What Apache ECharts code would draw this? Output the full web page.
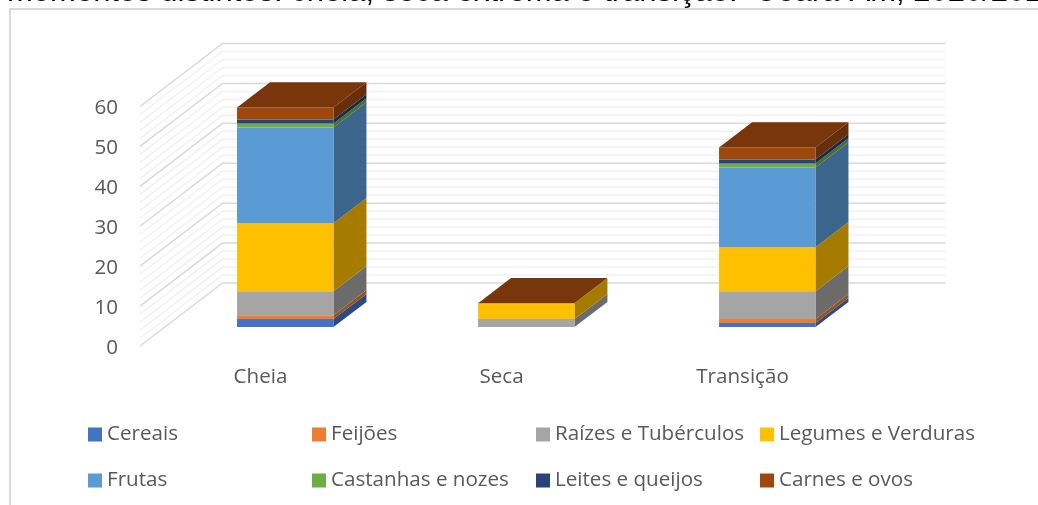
<!DOCTYPE html>
<html>
<head>
<meta charset="utf-8">
<style>html,body{margin:0;padding:0;background:#fff;overflow:hidden}#c{width:1038px;height:505px}</style>
<script src="https://cdn.jsdelivr.net/npm/echarts@6/dist/echarts.min.js"></script>
</head>
<body>
<div id="c"></div>
<script>
const categories = ['Cheia', 'Seca', 'Transição'];
const seriesNames = ['Cereais', 'Feijões', 'Raízes e Tubérculos', 'Legumes e Verduras', 'Frutas', 'Castanhas e nozes', 'Leites e queijos', 'Carnes e ovos'];
const cereais = [2, 0, 1];
const feijoes = [1, 0, 1];
const raizes = [6, 2, 7];
const legumes = [17, 4, 11];
const frutas = [24, 0, 20];
const castanhas = [1, 0, 1];
const leites = [1, 0, 1];
const carnes = [3, 0, 3];
const seriesValues = [cereais, feijoes, raizes, legumes, frutas, castanhas, leites, carnes];
const yTicks = [0, 10, 20, 30, 40, 50, 60];
const gridTicks = [0,2,4,6,8,10,12,14,16,18,20,22,24,26,28,30,32,34,36,38,40,42,44,46,48,50,52,54,56,58,60];
const titleText = 'momentos distintos: cheia, seca extrema e transição.  Ceará-Am, 2020/2021';

const frontColors = ['#4472C4', '#ED7D31', '#A5A5A5', '#FFC000', '#5B9BD5', '#70AD47', '#264478', '#9E480E'];
const sideColors = ['#2C4A80', '#9A5120', '#6B6B6B', '#A67C00', '#3B658B', '#49702E', '#192C4E', '#672F09'];
const topColor = '#7A360B';
const legendX = [88, 312, 536, 760];
const legendY = [424, 470];

const DX = 82.5, DY = -63, NEAR = 0.3, FAR = 0.7, BAR = 0.4;

function renderGrid(params, api) {
  const v = api.value(0);
  const cs = params.coordSys;
  const y = api.coord([0, v])[1];
  const major = v % 10 === 0;
  return {
    type: 'polyline',
    shape: { points: [[cs.x, y], [cs.x + DX, y + DY], [cs.x + cs.width + DX, y + DY]] },
    style: { fill: 'none', stroke: major ? '#D9D9D9' : '#F2F2F2', lineWidth: 1.5 },
    silent: true
  };
}

function renderSeg(sIdx) {
  return function (params, api) {
    const cat = api.value(0), lo = api.value(1), hi = api.value(2);
    const c0 = api.coord([cat, lo]), c1 = api.coord([cat, hi]);
    const w = api.size([1, 0])[0] * BAR;
    const ox = DX * NEAR, oy = DY * NEAR;
    const x0 = c0[0] + ox - w / 2, x1 = x0 + w;
    const yb = c0[1] + oy, yt = c1[1] + oy;
    const sx = DX * (FAR - NEAR), sy = DY * (FAR - NEAR);
    const children = [];
    if (hi > lo) {
      children.push({ type: 'polygon', shape: { points: [[x1, yb], [x1 + sx, yb + sy], [x1 + sx, yt + sy], [x1, yt]] }, style: { fill: sideColors[sIdx] } });
      children.push({ type: 'rect', shape: { x: x0, y: yt, width: w, height: yb - yt }, style: { fill: frontColors[sIdx] } });
    }
    if (sIdx === seriesNames.length - 1) {
      children.push({ type: 'polygon', shape: { points: [[x0, yt], [x1, yt], [x1 + sx, yt + sy], [x0 + sx, yt + sy]] }, style: { fill: topColor } });
    }
    return { type: 'group', children };
  };
}

const running = categories.map(() => 0);
const barSeries = seriesNames.map((name, i) => {
  const data = categories.map((_, k) => {
    const lo = running[k];
    running[k] = lo + seriesValues[i][k];
    return [k, lo, running[k]];
  });
  return {
    name, type: 'custom', renderItem: renderSeg(i), data, clip: false, z: 5 + i,
    itemStyle: { color: frontColors[i] },
    encode: { x: 0, y: 2 }
  };
});

const legends = seriesNames.map((name, i) => ({
  data: [name],
  left: legendX[i % 4],
  top: legendY[Math.floor(i / 4)],
  padding: 0,
  itemWidth: 14, itemHeight: 14, icon: 'rect',
  itemGap: 0, selectedMode: false,
  textStyle: { fontFamily: 'Open Sans', fontSize: 20.6, color: '#595959' }
}));

const chart = echarts.init(document.getElementById('c'), null, { renderer: 'canvas' });
chart.setOption({
  animation: false,
  backgroundColor: '#fff',
  title: {
    text: titleText, left: 7, top: -23, padding: 0, z: 1,
    textStyle: { fontFamily: 'Liberation Sans', fontWeight: 'normal', fontSize: 31, color: '#000' }
  },
  legend: legends,
  graphic: [{
    type: 'rect', z: 0, silent: true,
    shape: { x: 10, y: 9, width: 1200, height: 700 },
    style: { fill: '#fff', stroke: '#D9D9D9', lineWidth: 2 }
  }],
  grid: { left: 140, width: 723, top: 106.5, height: 239.5 },
  xAxis: {
    type: 'category', data: categories,
    axisLine: { show: false }, axisTick: { show: false },
    axisLabel: { fontFamily: 'Open Sans', fontSize: 20.6, color: '#595959', margin: 21 }
  },
  yAxis: {
    type: 'value', min: 0, max: 60, interval: 10,
    axisLine: { show: false }, axisTick: { show: false }, splitLine: { show: false },
    axisLabel: { fontFamily: 'Open Sans', fontSize: 20.6, color: '#595959', margin: 22,
      formatter: '{a|{value}}',
      rich: { a: { fontFamily: 'Open Sans', fontSize: 20.6, color: '#595959', padding: [4, 0, 0, 0] } },
      customValues: yTicks }
  },
  series: [{
    name: 'grade', type: 'custom', renderItem: renderGrid, clip: false, z: 2, silent: true,
    data: gridTicks.map(v => [v]), encode: { y: 0 }
  }].concat(barSeries)
});
</script>
</body>
</html>
